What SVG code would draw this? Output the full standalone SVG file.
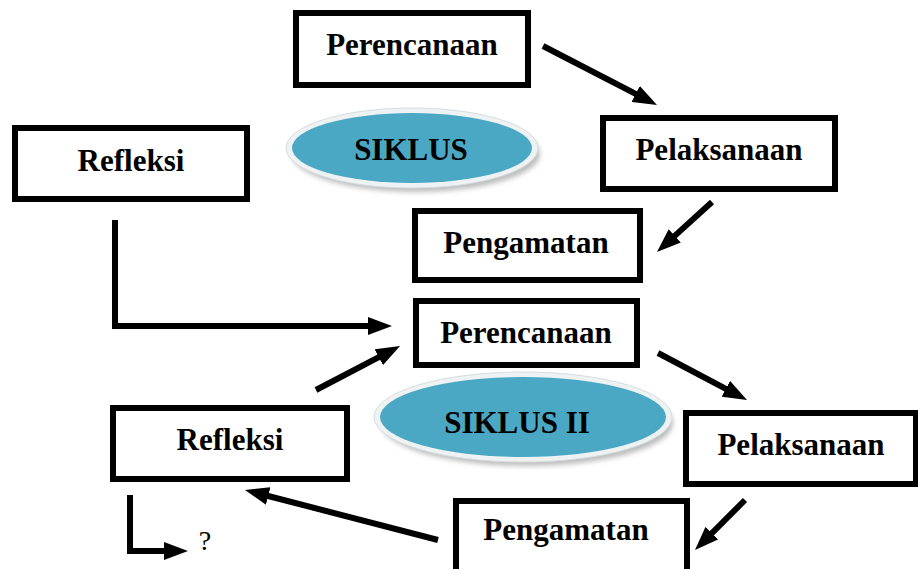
<svg xmlns="http://www.w3.org/2000/svg" width="918" height="569" viewBox="0 0 918 569">
<style>
.box{fill:#fff;stroke:#000;stroke-width:6}
.lbl{font-family:"Liberation Serif","Times New Roman",serif;font-weight:bold;font-size:31px;fill:#000;text-anchor:middle}
.con{fill:none;stroke:#000;stroke-width:6}
.shadow{fill:#bdbdbd}
.rim{fill:#eef2f3;stroke:#d6dde0;stroke-width:1}
.blue{fill:#4ba8c4}
</style>
<defs>
<marker id="ah" markerUnits="strokeWidth" markerWidth="4" markerHeight="3" refX="1" refY="1.5" orient="auto">
<path d="M0,0 L4,1.5 L0,3 z" fill="#000"/>
</marker>
<filter id="blur" x="-10%" y="-20%" width="120%" height="140%"><feGaussianBlur stdDeviation="2.5"/></filter>
</defs>
<rect width="918" height="569" fill="#fff"/>

<g id="siklus1">
<ellipse class="shadow" cx="416" cy="154" rx="124" ry="38" filter="url(#blur)"/>
<ellipse class="rim" cx="412" cy="148" rx="126" ry="40"/>
<ellipse class="blue" cx="412" cy="148" rx="120" ry="35"/>
<text class="lbl" x="411" y="160">SIKLUS</text>
</g>
<g id="siklus2">
<ellipse class="shadow" cx="527" cy="423" rx="146" ry="43" filter="url(#blur)"/>
<ellipse class="rim" cx="523" cy="417" rx="149" ry="45"/>
<ellipse class="blue" cx="523" cy="417" rx="143" ry="40"/>
<text class="lbl" x="517" y="433">SIKLUS II</text>
</g>

<g id="perencanaan1"><rect class="box" x="296" y="13" width="232" height="72"/><text class="lbl" x="412" y="55">Perencanaan</text></g>
<g id="refleksi1"><rect class="box" x="15" y="128" width="232" height="71"/><text class="lbl" x="131" y="171">Refleksi</text></g>
<g id="pelaksanaan1"><rect class="box" x="603" y="118" width="232" height="71"/><text class="lbl" x="719" y="160">Pelaksanaan</text></g>
<g id="pengamatan1"><rect class="box" x="415" y="211" width="225" height="69"/><text class="lbl" x="526" y="253">Pengamatan</text></g>
<g id="perencanaan2"><rect class="box" x="416" y="301" width="221" height="64"/><text class="lbl" x="526" y="343">Perencanaan</text></g>
<g id="refleksi2"><rect class="box" x="113" y="408" width="234" height="71"/><text class="lbl" x="230" y="450">Refleksi</text></g>
<g id="pelaksanaan2"><rect class="box" x="686" y="413" width="230" height="71"/><text class="lbl" x="801" y="455">Pelaksanaan</text></g>
<g id="pengamatan2"><rect class="box" x="456" y="501" width="231" height="72"/><text class="lbl" x="566" y="540">Pengamatan</text></g>

<g id="connectors">
<line class="con" x1="543" y1="46" x2="641" y2="96.7" marker-end="url(#ah)"/>
<line class="con" x1="712" y1="202" x2="670.3" y2="239.9" marker-end="url(#ah)"/>
<path class="con" d="M115,220 V326 H374" marker-end="url(#ah)"/>
<line class="con" x1="316" y1="390" x2="384.1" y2="354.4" marker-end="url(#ah)"/>
<line class="con" x1="658" y1="353" x2="731.1" y2="391.6" marker-end="url(#ah)"/>
<line class="con" x1="745" y1="500" x2="707.7" y2="537.3" marker-end="url(#ah)"/>
<line class="con" x1="438" y1="540" x2="262.4" y2="494.5" marker-end="url(#ah)"/>
<path class="con" d="M130,495 V551 H170" marker-end="url(#ah)"/>
</g>
<text x="205" y="550" font-family="'Liberation Serif','Times New Roman',serif" font-size="28" fill="#000" text-anchor="middle">?</text>
</svg>
